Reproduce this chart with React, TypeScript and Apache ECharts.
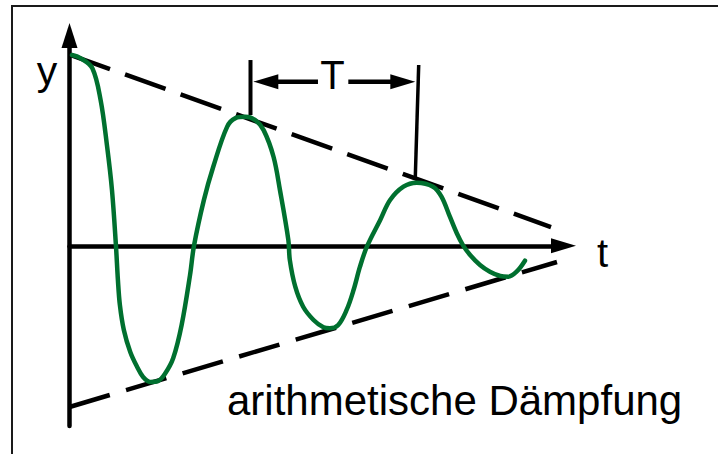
import React, { useEffect, useRef } from "react";
import * as echarts from "echarts";

// Damped oscillation (time t in arbitrary units, displacement y)
const curveT = [0.05, 0.22, 0.46, 0.63, 0.76, 0.86, 0.94, 0.98, 1.02, 1.1, 1.23, 1.37, 1.49, 1.63, 1.79, 1.93, 2.1, 2.27, 2.44, 2.52, 2.72, 2.91, 3.19, 3.36, 3.56, 3.76, 3.93, 4.13, 4.26, 4.43, 4.46, 4.57, 4.73, 4.94, 5.14, 5.27, 5.44, 5.61, 5.75, 5.88, 6.02, 6.29, 6.49, 6.76, 7.03, 7.36, 7.53, 7.7, 7.84, 7.97, 8.11, 8.31, 8.51, 8.72, 8.88, 9.05, 9.22];
const curveY = [1.905, 1.875, 1.775, 1.455, 0.996, 0.556, 0.003, -0.342, -0.592, -0.841, -1.061, -1.211, -1.311, -1.36, -1.351, -1.281, -1.121, -0.791, -0.292, 0.0, 0.456, 0.789, 1.188, 1.275, 1.288, 1.255, 1.155, 0.889, 0.557, 0.058, -0.142, -0.409, -0.609, -0.741, -0.814, -0.824, -0.791, -0.641, -0.442, -0.209, -0.009, 0.258, 0.457, 0.59, 0.63, 0.59, 0.49, 0.29, 0.125, 0.001, -0.092, -0.192, -0.259, -0.302, -0.309, -0.259, -0.149];

// Linear (arithmetic) envelope
const upperEnvelope = [[0, 1.91], [9.747, 0.187]];
const lowerEnvelope = [[0, -1.61], [9.868, -0.162]];

// Period marker T
const periodLeftBar = [[3.664, 1.855], [3.664, 1.306]];
const periodRightBar = [[7.069, 1.805], [7.0, 0.687]];
const periodArrowY = 1.639;
const periodLeftArrow = [5.03, 3.974];
const periodRightArrow = [5.644, 6.747];

const xRange = [0, 10];
const yRange = [-1.8, 2.1];

const labels = { y: "y", t: "t", T: "T", caption: "arithmetische Dämpfung" };

const FONT = "'Liberation Sans', Arial, sans-serif";
const GREEN = "#00702f";

export default function App() {
  const ref = useRef<HTMLDivElement>(null);

  useEffect(() => {
    if (!ref.current) return;
    const chart = echarts.init(ref.current, undefined, { renderer: "svg" });
    const curve = curveT.map((t, i) => [t, curveY[i]]);
    const black = "#000";

    const option: any = {
      animation: false,
      backgroundColor: "#fff",
      grid: { left: 69.5, right: 154.5, top: 35.5, bottom: 28 },
      xAxis: {
        type: "value",
        min: xRange[0],
        max: xRange[1],
        axisLine: {
          show: true,
          onZero: true,
          symbol: ["none", "triangle"],
          symbolSize: [15, 25],
          lineStyle: { color: black, width: 4.5 },
        },
        axisTick: { show: false },
        axisLabel: { show: false },
        splitLine: { show: false },
      },
      yAxis: {
        type: "value",
        min: yRange[0],
        max: yRange[1],
        axisLine: {
          show: true,
          onZero: false,
          symbol: ["none", "triangle"],
          symbolSize: [16, 25],
          lineStyle: { color: black, width: 4.5 },
        },
        axisTick: { show: false },
        axisLabel: { show: false },
        splitLine: { show: false },
      },
      series: [
        {
          type: "line",
          data: upperEnvelope,
          symbol: "none",
          clip: false,
          lineStyle: { color: black, width: 4.5, type: [43, 16] },
          z: 2,
        },
        {
          type: "line",
          data: lowerEnvelope,
          symbol: "none",
          clip: false,
          lineStyle: { color: black, width: 4.5, type: [42, 17] },
          z: 2,
        },
        {
          type: "line",
          data: periodLeftBar,
          symbol: "none",
          clip: false,
          lineStyle: { color: black, width: 4 },
          z: 2,
        },
        {
          type: "line",
          data: periodRightBar,
          symbol: "none",
          clip: false,
          lineStyle: { color: black, width: 3.5 },
          z: 2,
        },
        {
          type: "line",
          data: [
            { value: [periodLeftArrow[0], periodArrowY], symbol: "none" },
            {
              value: [periodLeftArrow[1], periodArrowY],
              symbol: "triangle",
              symbolSize: [15, 25],
              symbolRotate: 90,
            },
          ],
          symbol: "none",
          showSymbol: true,
          clip: false,
          itemStyle: { color: black },
          lineStyle: { color: black, width: 4.5 },
          z: 2,
        },
        {
          type: "line",
          data: [
            { value: [periodRightArrow[0], periodArrowY], symbol: "none" },
            {
              value: [periodRightArrow[1], periodArrowY],
              symbol: "triangle",
              symbolSize: [15, 25],
              symbolRotate: -90,
            },
          ],
          symbol: "none",
          showSymbol: true,
          clip: false,
          itemStyle: { color: black },
          lineStyle: { color: black, width: 4.5 },
          z: 2,
        },
        {
          type: "line",
          data: curve,
          symbol: "none",
          smooth: 0.35,
          clip: false,
          lineStyle: { color: GREEN, width: 4.5, cap: "round", join: "round" },
          z: 3,
        },
      ],
      graphic: [
        {
          type: "rect",
          shape: { x: 12, y: 6, width: 800, height: 600 },
          style: { fill: "none", stroke: "#1a1a1a", lineWidth: 2 },
          silent: true,
          z: 0,
        },
        {
          type: "text",
          x: 47,
          y: 70.5,
          style: { text: labels.y, font: `41px ${FONT}`, fill: black, align: "center", verticalAlign: "middle" },
        },
        {
          type: "text",
          x: 602.5,
          y: 253,
          style: { text: labels.t, font: `40px ${FONT}`, fill: black, align: "center", verticalAlign: "middle" },
        },
        {
          type: "text",
          x: 332.5,
          y: 75,
          style: { text: labels.T, font: `40px ${FONT}`, fill: black, align: "center", verticalAlign: "middle" },
        },
        {
          type: "text",
          x: 227,
          y: 400.5,
          style: { text: labels.caption, font: `42px ${FONT}`, fill: black, align: "left", verticalAlign: "middle" },
        },
      ],
    };

    chart.setOption(option);
    return () => chart.dispose();
  }, []);

  return (
    <div
      ref={ref}
      style={{ position: "fixed", left: 0, top: 0, width: 718, height: 454, background: "#fff" }}
    />
  );
}
